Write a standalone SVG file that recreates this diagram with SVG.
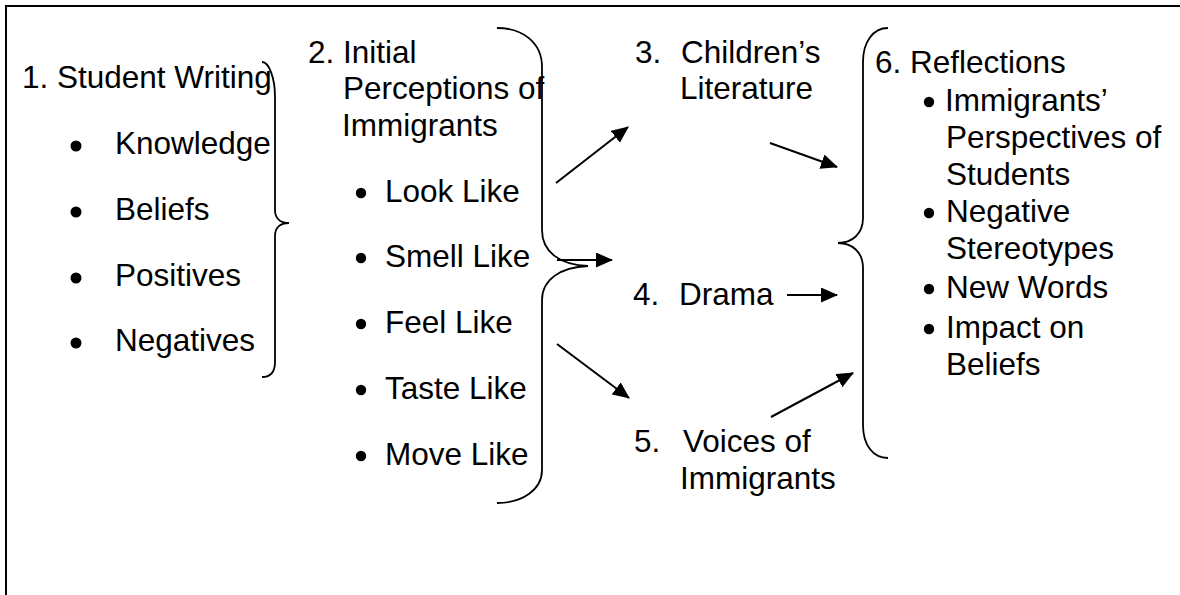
<svg xmlns="http://www.w3.org/2000/svg" width="1180" height="595" viewBox="0 0 1180 595">
<style>
text{font-family:"Liberation Sans",Arial,sans-serif;font-size:31.5px;fill:#000}
.frame{stroke:#000;stroke-width:2;fill:none}
.brace{stroke:#000;stroke-width:1.8;fill:none}
.arrow{stroke:#000;stroke-width:2;fill:none;marker-end:url(#ah)}
.dot{fill:#000}
</style>
<defs>
<marker id="ah" markerUnits="userSpaceOnUse" markerWidth="17" markerHeight="15" refX="16" refY="7.5" orient="auto">
<path d="M0,0 L17,7.5 L0,15 z" fill="#000"/>
</marker>
</defs>
<rect width="1180" height="595" fill="#fff"/>
<path class="frame" d="M6,595 L6,6 L1180,6"/>

<g id="node1">
<text x="22" y="88">1. Student Writing</text>
<circle class="dot" cx="76" cy="146" r="5.5"/><text x="115" y="154">Knowledge</text>
<circle class="dot" cx="76" cy="212" r="5.5"/><text x="115" y="220">Beliefs</text>
<circle class="dot" cx="76" cy="278" r="5.5"/><text x="115" y="286">Positives</text>
<circle class="dot" cx="76" cy="343" r="5.5"/><text x="115" y="351">Negatives</text>
<path class="brace" d="M262,62 C269,62 275,78 275,97 L275,210 C275,218 280,223 289,223 C280,223 275,228 275,236 L275,362 C275,372 270,377 262,377"/>
</g>

<g id="node2">
<text x="308" y="63">2. Initial</text>
<text x="343" y="99">Perceptions of</text>
<text x="342" y="136">Immigrants</text>
<circle class="dot" cx="361" cy="193" r="5.2"/><text x="385" y="202">Look Like</text>
<circle class="dot" cx="361" cy="258" r="5.2"/><text x="385" y="267">Smell Like</text>
<circle class="dot" cx="361" cy="324" r="5.2"/><text x="385" y="333">Feel Like</text>
<circle class="dot" cx="361" cy="390" r="5.2"/><text x="385" y="399">Taste Like</text>
<circle class="dot" cx="361" cy="456" r="5.2"/><text x="385" y="465">Move Like</text>
<path class="brace" d="M497,28 C522,28 542,42 542,67 L542,230 C542,252 560,265 588,266 C560,267 542,280 542,300 L542,470 C542,490 522,503 497,503"/>
</g>

<g id="node3">
<text x="635" y="63">3.</text>
<text x="681" y="63">Children’s</text>
<text x="680" y="99">Literature</text>
</g>

<g id="node4">
<text x="633" y="305">4.</text>
<text x="679" y="305">Drama</text>
</g>

<g id="node5">
<text x="634" y="452">5.</text>
<text x="683" y="452">Voices of</text>
<text x="680" y="489">Immigrants</text>
</g>

<g id="node6">
<path class="brace" d="M888,28 C873,28 863,42 863,62 L863,218 C863,234 852,243 838,243 C852,243 863,252 863,268 L863,425 C863,445 873,458 888,458"/>
<text x="875" y="73">6. Reflections</text>
<circle class="dot" cx="929" cy="102" r="5.2"/><text x="945" y="111">Immigrants’</text>
<text x="946" y="148">Perspectives of</text>
<text x="946" y="185">Students</text>
<circle class="dot" cx="929" cy="213" r="5.2"/><text x="946" y="222">Negative</text>
<text x="946" y="259">Stereotypes</text>
<circle class="dot" cx="929" cy="289" r="5.2"/><text x="946" y="298">New Words</text>
<circle class="dot" cx="929" cy="329" r="5.2"/><text x="946" y="338">Impact on</text>
<text x="946" y="375">Beliefs</text>
</g>

<g id="connectors">
<line class="arrow" x1="556" y1="183" x2="628" y2="127"/>
<line class="arrow" x1="770" y1="143" x2="837" y2="167"/>
<line class="arrow" x1="557" y1="260" x2="612" y2="260"/>
<line class="arrow" x1="787" y1="295" x2="837" y2="295"/>
<line class="arrow" x1="557" y1="344" x2="629" y2="398"/>
<line class="arrow" x1="771" y1="417" x2="853" y2="373"/>
</g>
</svg>
